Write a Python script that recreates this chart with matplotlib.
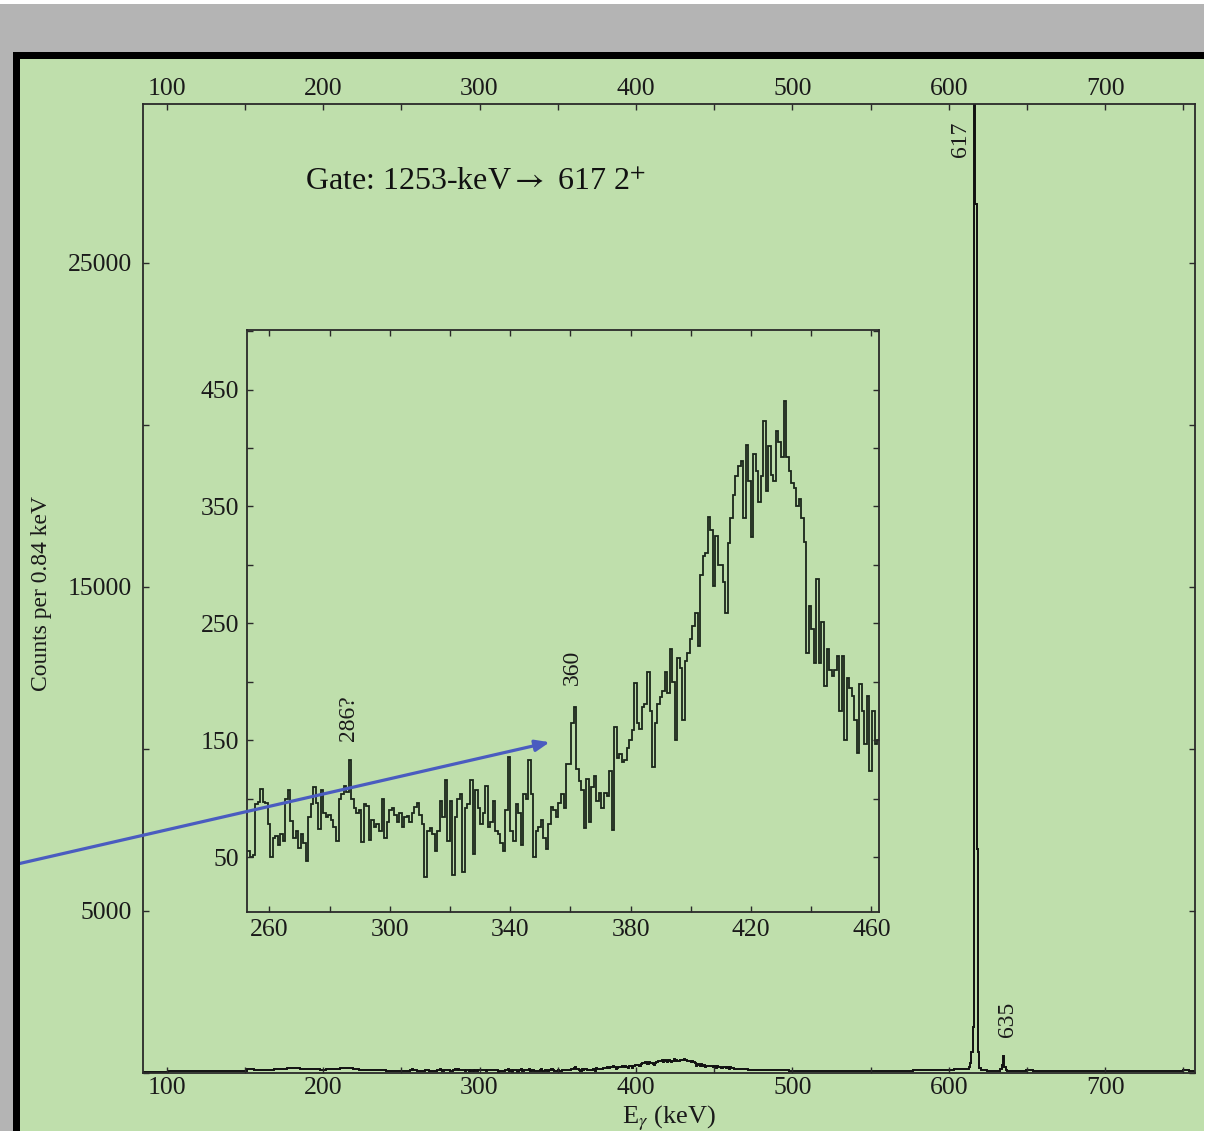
import numpy as np
import matplotlib
matplotlib.use("Agg")
import matplotlib.pyplot as plt
from matplotlib.patches import Rectangle

plt.rcParams['font.family'] = ['Liberation Serif', 'DejaVu Serif']
plt.rcParams['mathtext.fontset'] = 'stix'

# ---------------- data ----------------
# Inset spectrum: counts per 0.84 keV bin starting at 252.7 keV
inset_start = 252.7
bin_w = 0.84
inset_a = [55, 50, 52, 95, 97, 108, 97, 96, 78, 50, 66, 68, 60, 70, 64, 100, 107, 81, 66, 72,
           58, 70, 62, 47, 84, 95, 110, 96, 74, 107, 88, 84, 86, 82, 76, 64, 100, 104, 111, 106,
           133, 100, 92, 88, 90, 63, 95, 94, 65, 82, 76, 78, 72, 100, 66, 80, 90, 92, 86, 80,
           88, 76, 84]
inset_b = [85, 80, 88, 93, 96, 86, 78, 33, 72, 75, 70, 55, 72, 98, 84, 116, 64, 98, 35, 84,
           100, 104, 37, 92, 95, 116, 53, 107, 92, 78, 88, 111, 76, 80, 98, 72, 70, 62, 55, 90,
           136, 72, 64, 95, 88, 60, 104, 100, 133, 104, 50, 72, 76, 82, 66, 57, 78, 93, 90, 84,
           96, 104]
inset_c = [92, 130, 130, 165, 178, 125, 115, 107, 75, 117, 80, 110, 119, 98, 105, 92, 105, 102, 124, 73,
           161, 135, 138, 131, 133, 143, 150, 159, 199, 165, 160, 178, 181, 208, 175, 127, 165, 181, 187, 192,
           208, 190, 228, 200, 150, 220, 212, 167, 218, 225, 237, 248, 259, 231, 291, 308, 310, 341, 330, 282,
           325]
inset_d = [300, 300, 285, 259, 319, 340, 360, 376, 385, 389, 340, 403, 372, 324, 395, 380, 354, 376, 423, 363,
           402, 377, 372, 415, 405, 392, 440, 392, 380, 370, 366, 350, 356, 340, 320, 225, 265, 245, 216, 288,
           216, 251, 196, 228, 210, 205, 210, 222, 175, 222, 150, 203, 195, 188, 167, 139, 198, 175, 147, 188,
           124, 175, 147, 150]
inset_counts = np.array(inset_a + inset_b + inset_c + inset_d, dtype=float)

# Main spectrum, coarse background segments (counts per 0.84 keV)
low_range = (84.0, 252.7)
low_counts = [40, 40, 45, 45, 50, 50, 50, 55, 55, 55, 60, 60, 60, 65, 65, 60, 120, 80, 90, 100,
              120, 130, 140, 140, 130, 120, 110, 100, 110, 130, 160, 160, 130, 100, 90, 80, 80, 75, 70, 70]
mid_range = (462.7, 612.0)
mid_counts = [130, 115, 100, 95, 90, 85, 80, 80, 75, 75, 75, 70, 70, 70, 70, 65, 65, 65, 65, 70,
              70, 70, 70, 70, 75, 75, 80, 80, 85, 85, 90, 95, 110, 130]
# 617 keV peak region, 0.84 keV bins starting at 612.0
peak_start = 612.0
peak_counts = [130, 180, 300, 633, 1404, 34000, 26800, 6900, 633, 150]
pre635_range = (620.4, 633.0)
pre635_counts = [90, 70, 70]
# 635 keV peak, 0.84 keV bins starting at 633.0
p635_start = 633.0
p635_counts = [120, 250, 510, 200, 90]
high_range = (637.2, 758.0)
high_counts = [60, 60, 60, 105, 60, 60, 55, 55, 55, 60, 60, 55, 55, 55, 60, 55, 55, 55, 55, 55,
               55, 55, 55, 55, 55, 55, 55, 100, 55]

main_xticks = [100, 150, 200, 250, 300, 350, 400, 450, 500, 550, 600, 650, 700, 750]
main_xlabels = ['100', '', '200', '', '300', '', '400', '', '500', '', '600', '', '700', '']
main_yticks = [0, 5000, 10000, 15000, 20000, 25000]
main_ylabels = ['', '5000', '', '15000', '', '25000']
inset_xticks = [260, 280, 300, 320, 340, 360, 380, 400, 420, 440, 460]
inset_xlabels = ['260', '', '300', '', '340', '', '380', '', '420', '', '460']
inset_yticks = [50, 100, 150, 200, 250, 300, 350, 400, 450, 500]
inset_ylabels = ['50', '', '150', '', '250', '', '350', '', '450', '']

# ---------------- build bins ----------------
def fine_edges(start, n):
    return start + bin_w * np.arange(n + 1)

inset_edges = fine_edges(inset_start, len(inset_counts))

edges_list = [np.linspace(low_range[0], low_range[1], len(low_counts) + 1)[:-1],
              inset_edges[:-1],
              np.linspace(mid_range[0], mid_range[1], len(mid_counts) + 1)[:-1],
              fine_edges(peak_start, len(peak_counts))[:-1],
              np.linspace(pre635_range[0], pre635_range[1], len(pre635_counts) + 1)[:-1],
              fine_edges(p635_start, len(p635_counts))[:-1],
              np.linspace(high_range[0], high_range[1], len(high_counts) + 1)]
main_edges = np.concatenate(edges_list)
main_counts = np.concatenate([low_counts, inset_counts, mid_counts, peak_counts,
                              pre635_counts, p635_counts, high_counts]).astype(float)

# ---------------- figure ----------------
W, H = 1212, 1131
green = '#bfdfac'
fig = plt.figure(figsize=(W / 100, H / 100), dpi=100, facecolor=green)

def px_rect(x0, y0, x1, y1, color):
    fig.patches.append(Rectangle((x0 / W, 1 - y1 / H), (x1 - x0) / W, (y1 - y0) / H,
                                 transform=fig.transFigure, facecolor=color,
                                 edgecolor='none', zorder=0))

px_rect(0, 0, W, 4, 'white')
px_rect(1204, 0, W, H, 'white')
px_rect(0, 4, 1204, 52, '#b4b4b4')
px_rect(0, 4, 13, H, '#b4b4b4')
px_rect(13, 52, 1204, 59, 'black')
px_rect(13, 52, 20, H, 'black')

spine_c = '#2a2a2a'
tick_fs = 18.5

ax = fig.add_axes([143 / W, 1 - 1073 / H, (1195 - 143) / W, (1073 - 104) / H])
ax.set_facecolor('none')
ax.stairs(main_counts, main_edges, baseline=None, color='#111111', lw=1.4)
ax.set_xlim(84.8, 757.5)
ax.set_ylim(0, 29900)
ax.set_xticks(main_xticks)
ax.set_xticklabels(main_xlabels)
ax.set_yticks(main_yticks)
ax.set_yticklabels(main_ylabels)
ax.tick_params(direction='in', length=4, width=1, colors=spine_c, labelcolor='#1a1a1a',
               labelsize=tick_fs, top=True, right=True, labeltop=True, labelbottom=True)
ax.tick_params(axis='x', pad=3)
ax.tick_params(axis='y', pad=8)
for s in ax.spines.values():
    s.set_color(spine_c)
    s.set_linewidth(1.3)

ax.text(607.8, 28800, '617', rotation=90, ha='center', va='center', fontsize=17, color='#1a1a1a')
ax.text(637.6, 1650, '635', rotation=90, ha='center', va='center', fontsize=17, color='#1a1a1a')

fig.text(305 / W, 1 - 183 / H, r'Gate: 1253-keV$\rightarrow$ 617 2$^{+}$', ha='left', va='center',
         fontsize=23, color='#111111')
fig.text(42 / W, 1 - 593 / H, 'Counts per 0.84 keV', rotation=90, ha='center', va='center',
         fontsize=17, color='#1a1a1a')
fig.text(669 / W, 1 - 1104 / H, r'E$_\gamma$ (keV)', ha='center', va='top',
         fontsize=19, color='#1a1a1a')

# ---------------- inset ----------------
axi = fig.add_axes([247.5 / W, 1 - 912 / H, (879 - 247.5) / W, (912 - 330) / H])
axi.set_facecolor('none')
axi.stairs(inset_counts, inset_edges, baseline=None, color='#1a261a', lw=1.3)
axi.set_xlim(252.7, 462.5)
axi.set_ylim(3, 501)
axi.set_xticks(inset_xticks)
axi.set_xticklabels(inset_xlabels)
axi.set_yticks(inset_yticks)
axi.set_yticklabels(inset_ylabels)
axi.tick_params(direction='in', length=4, width=1, colors=spine_c, labelcolor='#1a1a1a',
                labelsize=tick_fs, top=True, right=True)
axi.tick_params(axis='x', pad=5)
axi.tick_params(axis='y', pad=6)
for s in axi.spines.values():
    s.set_color(spine_c)
    s.set_linewidth(1.3)

axi.text(286.2, 169, '286?', rotation=90, ha='center', va='center', fontsize=17, color='#1a1a1a')
axi.text(360.6, 212, '360', rotation=90, ha='center', va='center', fontsize=17, color='#1a1a1a')

axi.annotate('', xy=(353.1, 148.3), xycoords='data',
             xytext=(0.0, 1 - 868 / H), textcoords='figure fraction',
             arrowprops=dict(arrowstyle='-|>,head_length=0.5,head_width=0.2',
                             mutation_scale=17, color='#4a5cc0', lw=2.3,
                             shrinkA=0, shrinkB=0),
             annotation_clip=False, zorder=10)

fig.savefig('out.png', dpi=100, facecolor=fig.get_facecolor())
